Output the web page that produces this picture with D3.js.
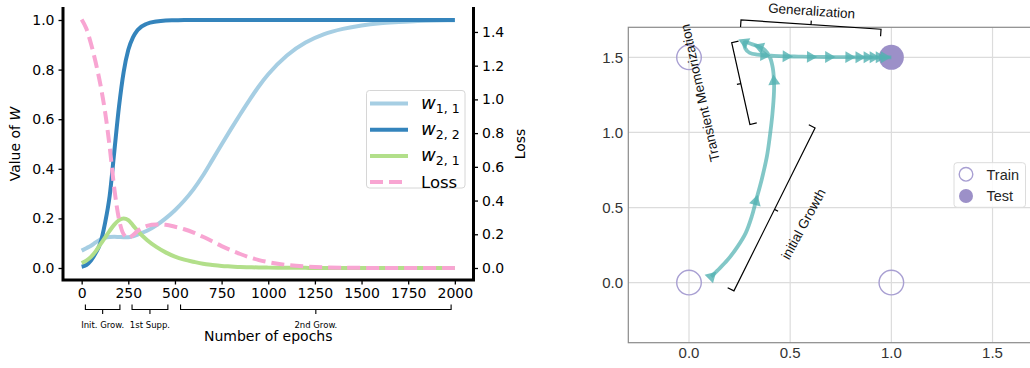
<!DOCTYPE html>
<html>
<head>
<meta charset="utf-8">
<script src="https://cdn.jsdelivr.net/npm/d3@7"></script>
<style>
	body { margin: 0; background: #fff; }
	svg { display: block; }
</style>
</head>
<body>
<script>
// data
var epochs = [0, 25, 50, 75, 100, 125, 150, 175, 200, 225, 250, 275, 300, 350, 400, 450, 500, 550, 600, 650,
	700, 750, 800, 850, 900, 950, 1000, 1100, 1200, 1300, 1400, 1500, 1600, 1700, 1800, 1900, 2000];
var w11 = [0.07, 0.08, 0.09, 0.103, 0.115, 0.122, 0.125, 0.126, 0.125, 0.124, 0.124, 0.128, 0.135, 0.15, 0.172, 0.2, 0.233, 0.272, 0.318, 0.373,
	0.435, 0.498, 0.56, 0.62, 0.678, 0.733, 0.781, 0.857, 0.909, 0.943, 0.964, 0.978, 0.987, 0.992, 0.996, 0.998, 0.999];
var w22 = [0.005, 0.012, 0.03, 0.06, 0.1, 0.18, 0.29, 0.47, 0.65, 0.79, 0.88, 0.93, 0.96, 0.985, 0.994, 0.998, 0.999, 1, 1, 1,
	1, 1, 1, 1, 1, 1, 1, 1, 1, 1, 1, 1, 1, 1, 1, 1, 1];
var w21 = [0.02, 0.03, 0.045, 0.067, 0.095, 0.122, 0.15, 0.175, 0.193, 0.2, 0.193, 0.172, 0.15, 0.113, 0.085, 0.063, 0.046, 0.034, 0.025, 0.017,
	0.012, 0.008, 0.006, 0.004, 0.003, 0.002, 0.0015, 0.001, 0.0005, 0, 0, 0, 0, 0, 0, 0, 0];
var loss = [1.474, 1.42, 1.33, 1.22, 1.09, 0.93, 0.72, 0.47, 0.29, 0.2, 0.178, 0.195, 0.22, 0.25, 0.258, 0.256, 0.245, 0.23, 0.21, 0.185,
	0.158, 0.13, 0.105, 0.083, 0.063, 0.047, 0.035, 0.018, 0.009, 0.004, 0.002, 0.001, 0, 0, 0, 0, 0];
var epochTicks = [0, 250, 500, 750, 1000, 1250, 1500, 1750, 2000];
var wTicks = [0, 0.2, 0.4, 0.6, 0.8, 1.0];
var lossTicks = [0, 0.2, 0.4, 0.6, 0.8, 1.0, 1.2, 1.4];
var phaseNames = ['Init. Grow.', '1st Supp.', '2nd Grow.'];
var phaseStart = [20, 270, 530];
var phaseEnd = [205, 462, 1980];

// right panel data
var trainX = [0, 1, 0];
var trainY = [0, 0, 1.5];
var testX = [1];
var testY = [1.5];
var trajX = [0.11, 0.14, 0.19, 0.24, 0.28, 0.31, 0.33, 0.36, 0.385, 0.40, 0.412, 0.42, 0.42, 0.414, 0.40, 0.375, 0.35, 0.31, 0.275,
	0.278, 0.30, 0.34, 0.37, 0.42, 0.48, 0.54, 0.60, 0.69, 0.79, 0.84, 0.88, 0.91, 0.94, 0.965, 1.0];
var trajY = [0.04, 0.08, 0.15, 0.24, 0.33, 0.44, 0.54, 0.69, 0.84, 0.98, 1.12, 1.27, 1.34, 1.43, 1.5, 1.548, 1.568, 1.588, 1.60,
	1.56, 1.53, 1.518, 1.514, 1.51, 1.507, 1.505, 1.503, 1.502, 1.501, 1.5, 1.5, 1.5, 1.5, 1.5, 1.5];
var markIdx = [0, 6, 12, 16, 18, 22, 24, 26, 27, 28, 29, 30, 31, 32, 33];
var gridTicks = [0, 0.5, 1.0, 1.5];
var notes = ['Generalization', 'Transient Memorization', 'initial Growth'];
var noteFrom = [[0.257, 1.749], [0.211, 1.598], [0.222, -0.055]];
var noteTo = [[0.949, 1.687], [0.301, 1.053], [0.623, 1.03]];
var noteAt = [[0.606, 1.81], [0.054, 1.263], [0.565, 0.39]];

var svg = d3.select('body').append('svg')
	.attr('width', 1030)
	.attr('height', 368);

// ---------- left panel ----------
var fontL = 'DejaVu Sans, sans-serif';
var x = d3.scaleLinear().domain([-100, 2100]).range([63, 473.5]);
var y = d3.scaleLinear().domain([-0.0484, 1.0524]).range([280, 7]);
var yLoss = d3.scaleLinear().domain([-0.0712, 1.548]).range([280, 7]);

var left = svg.append('g');

function makeLine (vals, yScale) {
	return d3.line()
		.x(function (d, i) { return x(epochs[i]); })
		.y(function (d) { return yScale(d); })
		.curve(d3.curveMonotoneX)(vals);
}

var series = [
	{ vals: w11, color: '#a6cee3', dash: null, name: 'w', sub: '1, 1' },
	{ vals: w22, color: '#3484bc', dash: null, name: 'w', sub: '2, 2' },
	{ vals: w21, color: '#b2df8a', dash: null, name: 'w', sub: '2, 1' },
	{ vals: loss, color: '#f8a5d2', dash: '13,6', name: 'Loss', sub: null }
];

series.forEach(function (s, k) {
	left.append('path')
		.attr('d', makeLine(s.vals, k === 3 ? yLoss : y))
		.attr('fill', 'none')
		.attr('stroke', s.color)
		.attr('stroke-width', 4)
		.attr('stroke-dasharray', s.dash);
});

// axes
function styleAxis (g) {
	g.select('.domain').remove();
	g.selectAll('text').attr('font-family', fontL).attr('font-size', 14).attr('fill', '#000');
	g.selectAll('line').attr('stroke', '#000').attr('stroke-width', 1.3);
}
left.append('g')
	.attr('transform', 'translate(0,280)')
	.call(d3.axisBottom(x).tickValues(epochTicks).tickSize(4.5).tickPadding(4).tickFormat(d3.format('d')))
	.call(styleAxis);
left.append('g')
	.attr('transform', 'translate(63,0)')
	.call(d3.axisLeft(y).tickValues(wTicks).tickSize(4.5).tickPadding(4).tickFormat(d3.format('.1f')))
	.call(styleAxis);
left.append('g')
	.attr('transform', 'translate(473.5,0)')
	.call(d3.axisRight(yLoss).tickValues(lossTicks).tickSize(4.5).tickPadding(4).tickFormat(d3.format('.1f')))
	.call(styleAxis);

// spines
left.append('path')
	.attr('d', 'M63,7V280H473.5V7')
	.attr('fill', 'none')
	.attr('stroke', '#000')
	.attr('stroke-width', 3);

// axis labels
var yl = left.append('text')
	.attr('transform', 'translate(20,144) rotate(-90)')
	.attr('text-anchor', 'middle')
	.attr('font-family', fontL)
	.attr('font-size', 14);
yl.append('tspan').text('Value of ');
yl.append('tspan').attr('font-style', 'italic').text('W');

left.append('text')
	.attr('transform', 'translate(525,144) rotate(-90)')
	.attr('text-anchor', 'middle')
	.attr('font-family', fontL)
	.attr('font-size', 14)
	.text('Loss');

left.append('text')
	.attr('x', x(1000))
	.attr('y', 341)
	.attr('text-anchor', 'middle')
	.attr('font-family', fontL)
	.attr('font-size', 14)
	.text('Number of epochs');

// phase brackets
phaseNames.forEach(function (name, i) {
	var a = x(phaseStart[i]), b = x(phaseEnd[i]), m = (a + b) / 2;
	left.append('path')
		.attr('d', 'M' + a + ',304.5V309.5H' + b + 'V304.5M' + m + ',309.5V314')
		.attr('fill', 'none')
		.attr('stroke', '#000')
		.attr('stroke-width', 1.1);
	left.append('text')
		.attr('x', m)
		.attr('y', 327.5)
		.attr('text-anchor', 'middle')
		.attr('font-family', fontL)
		.attr('font-size', 8.5)
		.text(name);
});

// legend
var leg = left.append('g');
leg.append('rect')
	.attr('x', 366.5).attr('y', 90.5)
	.attr('width', 98.5).attr('height', 97.5)
	.attr('rx', 3)
	.attr('fill', '#fff')
	.attr('fill-opacity', 0.85)
	.attr('stroke', '#d6d6d6');
series.forEach(function (s, k) {
	var ly = 103.5 + k * 26.2;
	leg.append('line')
		.attr('x1', 370).attr('x2', 408)
		.attr('y1', ly).attr('y2', ly)
		.attr('stroke', s.color)
		.attr('stroke-width', 4)
		.attr('stroke-dasharray', s.dash);
	var t = leg.append('text')
		.attr('x', 421)
		.attr('y', ly + 5.5)
		.attr('font-family', fontL)
		.attr('font-size', 16.5);
	if (s.sub) {
		t.append('tspan').attr('font-style', 'italic').attr('font-size', 18).text(s.name);
		t.append('tspan').attr('font-size', 12.5).attr('dy', 4).text(s.sub);
	} else {
		t.text(s.name);
	}
});

// ---------- right panel ----------
var fontR = 'Liberation Sans, Arial, sans-serif';
var xr = d3.scaleLinear().domain([-0.3, 1.7]).range([628.3, 1033]);
var yr = d3.scaleLinear().domain([-0.4, 1.7]).range([342.7, 27.3]);

var right = svg.append('g');

gridTicks.forEach(function (t) {
	right.append('line')
		.attr('x1', xr(t)).attr('x2', xr(t))
		.attr('y1', yr(1.7)).attr('y2', yr(-0.4))
		.attr('stroke', '#dcdcdc').attr('stroke-width', 1.2);
	right.append('line')
		.attr('x1', xr(-0.3)).attr('x2', xr(1.7))
		.attr('y1', yr(t)).attr('y2', yr(t))
		.attr('stroke', '#dcdcdc').attr('stroke-width', 1.2);
	right.append('text')
		.attr('x', xr(t)).attr('y', 358)
		.attr('text-anchor', 'middle')
		.attr('font-family', fontR).attr('font-size', 15)
		.attr('fill', '#333')
		.text(d3.format('.1f')(t));
	right.append('text')
		.attr('x', 623).attr('y', yr(t) + 5.3)
		.attr('text-anchor', 'end')
		.attr('font-family', fontR).attr('font-size', 15)
		.attr('fill', '#333')
		.text(d3.format('.1f')(t));
});

right.append('rect')
	.attr('x', xr(-0.3)).attr('y', yr(1.7))
	.attr('width', xr(1.7) - xr(-0.3)).attr('height', yr(-0.4) - yr(1.7))
	.attr('fill', 'none')
	.attr('stroke', '#8a8a8a')
	.attr('stroke-width', 1.2);

// train / test points
trainX.forEach(function (d, i) {
	right.append('circle')
		.attr('cx', xr(d)).attr('cy', yr(trainY[i]))
		.attr('r', 12.3)
		.attr('fill', 'none')
		.attr('stroke', '#a89fd2')
		.attr('stroke-width', 1.4);
});
testX.forEach(function (d, i) {
	right.append('circle')
		.attr('cx', xr(d)).attr('cy', yr(testY[i]))
		.attr('r', 12.5)
		.attr('fill', '#9c90c8');
});

// trajectory
var teal = '#52b1b1';
right.append('path')
	.attr('d', d3.line()
		.x(function (d, i) { return xr(d); })
		.y(function (d, i) { return yr(trajY[i]); })
		.curve(d3.curveCatmullRom)(trajX))
	.attr('fill', 'none')
	.attr('stroke', teal)
	.attr('stroke-opacity', 0.72)
	.attr('stroke-width', 3.8);

var tri = d3.symbol().type(d3.symbolTriangle).size(62);
markIdx.forEach(function (i) {
	var j = Math.min(i + 1, trajX.length - 1);
	var dx = xr(trajX[j]) - xr(trajX[i]);
	var dy = yr(trajY[j]) - yr(trajY[i]);
	var ang = Math.atan2(dy, dx) * 180 / Math.PI + 90;
	right.append('path')
		.attr('d', tri())
		.attr('transform', 'translate(' + xr(trajX[i]) + ',' + yr(trajY[i]) + ') rotate(' + ang + ')')
		.attr('fill', teal)
		.attr('fill-opacity', 0.8);
});

// brackets with notes
notes.forEach(function (name, k) {
	var ax = xr(noteFrom[k][0]), ay = yr(noteFrom[k][1]);
	var bx = xr(noteTo[k][0]), by = yr(noteTo[k][1]);
	var len = Math.hypot(bx - ax, by - ay);
	var ux = (bx - ax) / len, uy = (by - ay) / len;
	var nx = -uy, ny = ux;
	// end ticks point away from the text, middle tick toward it
	var tx = xr(noteAt[k][0]) - (ax + bx) / 2, ty = yr(noteAt[k][1]) - (ay + by) / 2;
	var side = (nx * tx + ny * ty) > 0 ? -1 : 1;
	var e = 7 * side, m = -4 * side;
	var mx = (ax + bx) / 2, my = (ay + by) / 2;
	right.append('path')
		.attr('d', 'M' + (ax + nx * e) + ',' + (ay + ny * e) + 'L' + ax + ',' + ay + 'L' + bx + ',' + by +
			'L' + (bx + nx * e) + ',' + (by + ny * e) + 'M' + mx + ',' + my + 'L' + (mx + nx * m) + ',' + (my + ny * m))
		.attr('fill', 'none')
		.attr('stroke', '#000')
		.attr('stroke-width', 1.2);
	var ang = Math.atan2(by - ay, bx - ax) * 180 / Math.PI;
	if (k === 1) ang = Math.atan2(ay - by, ax - bx) * 180 / Math.PI;
	if (k === 2) ang += 2;
	right.append('text')
		.attr('transform', 'translate(' + xr(noteAt[k][0]) + ',' + yr(noteAt[k][1]) + ') rotate(' + ang + ')')
		.attr('text-anchor', 'middle')
		.attr('dy', '0.35em')
		.attr('font-family', fontR)
		.attr('font-size', 13.5)
		.attr('fill', '#111')
		.text(name);
});

// legend
var lg = right.append('g');
lg.append('rect')
	.attr('x', 954).attr('y', 162.7)
	.attr('width', 71.5).attr('height', 44.6)
	.attr('rx', 3)
	.attr('fill', '#fff')
	.attr('fill-opacity', 0.85)
	.attr('stroke', '#dcdcdc');
lg.append('circle')
	.attr('cx', 966).attr('cy', 174.3).attr('r', 6.8)
	.attr('fill', 'none').attr('stroke', '#a89fd2').attr('stroke-width', 1.4);
lg.append('circle')
	.attr('cx', 966).attr('cy', 196).attr('r', 7)
	.attr('fill', '#9c90c8');
['Train', 'Test'].forEach(function (t, i) {
	lg.append('text')
		.attr('x', 986.5).attr('y', 179.5 + i * 21.7)
		.attr('font-family', fontR).attr('font-size', 14.5)
		.attr('fill', '#262626')
		.text(t);
});
</script>
</body>
</html>
